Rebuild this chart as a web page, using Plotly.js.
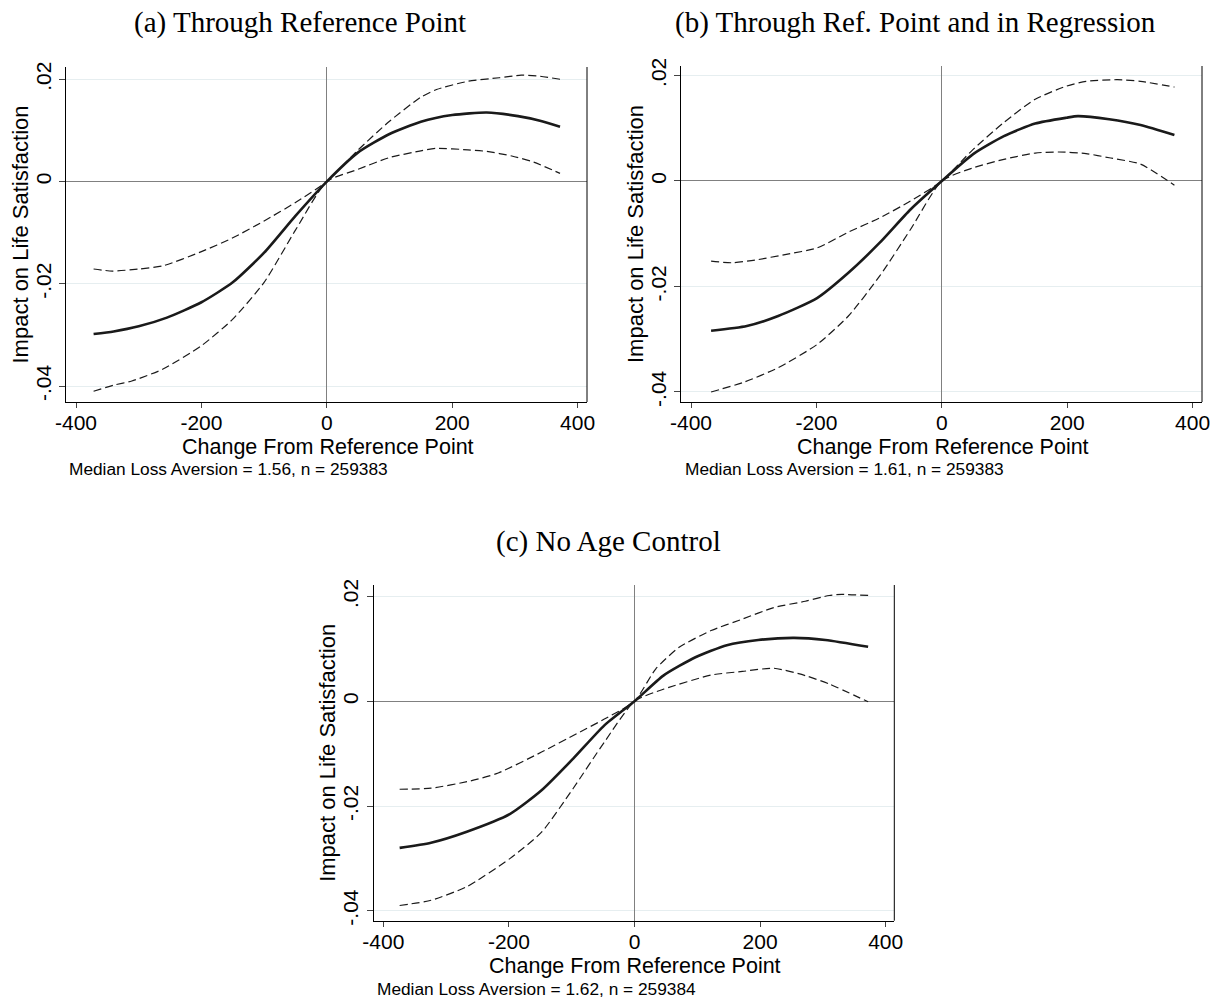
<!DOCTYPE html>
<html>
<head>
<meta charset="utf-8">
<script src="https://cdn.plot.ly/plotly-3.0.1.min.js"></script>
<style>html,body{margin:0;padding:0;background:#fff;}#chart{width:1221px;height:1001px;}</style>
</head>
<body>
<div id="chart"></div>
<script>
// ---------- data ----------
const panelTitles = ["(a) Through Reference Point", "(b) Through Ref. Point and in Regression", "(c) No Age Control"];
const notes = ["Median Loss Aversion = 1.56, n = 259383", "Median Loss Aversion = 1.61, n = 259383", "Median Loss Aversion = 1.62, n = 259384"];
const xTitle = "Change From Reference Point";
const yTitle = "Impact on Life Satisfaction";
const xTickVals = [-400, -200, 0, 200, 400];
const xTickText = ["-400", "-200", "0", "200", "400"];
const yTickVals = [-0.04, -0.02, 0, 0.02];
const yTickText = ["-.04", "-.02", "0", ".02"];

// Panel (a)
const solidA_x = [-372,-340,-300,-255,-200,-150,-100,-50,0,50,100,150,200,255,305,340,372];
const solidA_y = [-0.0298,-0.0293,-0.0283,-0.0266,-0.0236,-0.0197,-0.0139,-0.0067,0,0.0057,0.0093,0.0117,0.0130,0.0135,0.0128,0.0119,0.0107];
const upperA_x = [-372,-342,-300,-262,-200,-150,-100,-50,0,50,100,150,175,225,275,310,340,372];
const upperA_y = [-0.0171,-0.0175,-0.0171,-0.0165,-0.0137,-0.0110,-0.0077,-0.0041,0,0.0062,0.0118,0.0165,0.0180,0.0196,0.0203,0.0208,0.0206,0.0200];
const lowerA_x = [-372,-340,-311,-262,-200,-150,-100,-50,0,50,100,150,175,225,255,295,330,372];
const lowerA_y = [-0.0410,-0.0398,-0.0390,-0.0367,-0.0321,-0.0269,-0.0197,-0.0095,0,0.0024,0.0047,0.0060,0.0065,0.0062,0.0059,0.0050,0.0038,0.0016];

// Panel (b)
const solidB_x = [-368,-311,-261,-199,-149,-99,-50,0,50,99,149,199,217,267,317,371];
const solidB_y = [-0.0284,-0.0275,-0.0256,-0.0222,-0.0174,-0.0117,-0.0054,0,0.0051,0.0085,0.0109,0.0120,0.0123,0.0117,0.0106,0.0087];
const upperB_x = [-368,-335,-298,-248,-199,-149,-99,-50,0,50,99,149,199,230,280,317,371];
const upperB_y = [-0.0152,-0.0155,-0.0150,-0.0139,-0.0127,-0.0097,-0.0070,-0.0038,0,0.0060,0.0111,0.0155,0.0180,0.0189,0.0192,0.0189,0.0178];
const lowerB_x = [-368,-317,-261,-199,-149,-99,-50,0,50,99,149,186,230,267,317,371];
const lowerB_y = [-0.0400,-0.0382,-0.0354,-0.0310,-0.0256,-0.0180,-0.0092,0,0.0025,0.0041,0.0053,0.0055,0.0052,0.0044,0.0032,-0.0008];

// Panel (c)
const solidC_x = [-374,-324,-267,-198,-148,-98,-48,0,46,97,147,197,254,304,372];
const solidC_y = [-0.0280,-0.0270,-0.0249,-0.0215,-0.0170,-0.0110,-0.0046,0,0.0049,0.0084,0.0107,0.0117,0.0121,0.0117,0.0104];
const upperC_x = [-374,-324,-261,-217,-148,-92,-48,0,34,71,122,172,222,272,310,330,372];
const upperC_y = [-0.0168,-0.0166,-0.0152,-0.0137,-0.0097,-0.0062,-0.0034,0,0.0062,0.0103,0.0135,0.0157,0.0179,0.0191,0.0202,0.0204,0.0202];
const lowerC_x = [-374,-324,-267,-198,-148,-98,-48,0,46,122,172,222,272,310,372];
const lowerC_y = [-0.0390,-0.0380,-0.0354,-0.0300,-0.0250,-0.0167,-0.0078,0,0.0023,0.0050,0.0057,0.0063,0.0049,0.0033,-0.0001];

// ---------- layout geometry (pixels) ----------
const W = 1221, H = 1001;
const panels = [
  {xa:'x',  ya:'y',  left:66,    right:587,   top:67,  bottom:402,   xr:[-416,415],   yr:[-0.0431,0.0224], titleX:300, titleY:22, ytX:20,  xtY:447, noteX:68,  noteY:469},
  {xa:'x2', ya:'y2', left:681,   right:1202,  top:66,  bottom:402,   xr:[-416,415],   yr:[-0.0419,0.0218], titleX:915, titleY:22, ytX:636, xtY:447, noteX:684, noteY:469},
  {xa:'x3', ya:'y3', left:373.7, right:894.3, top:585, bottom:920.7, xr:[-415.3,413.7], yr:[-0.0419,0.0222], titleX:608, titleY:541, ytX:328, xtY:966, noteX:376, noteY:989}
];

const series = [
  [solidA_x, solidA_y, upperA_x, upperA_y, lowerA_x, lowerA_y],
  [solidB_x, solidB_y, upperB_x, upperB_y, lowerB_x, lowerB_y],
  [solidC_x, solidC_y, upperC_x, upperC_y, lowerC_x, lowerC_y]
];

const traces = [];
series.forEach((s, i) => {
  const p = panels[i];
  const dashed = {color:'#1a1a1a', width:1.2, dash:'8px,4px', shape:'spline', smoothing:0.6};
  traces.push({x:s[2], y:s[3], xaxis:p.xa, yaxis:p.ya, mode:'lines', line:dashed, hoverinfo:'skip'});
  traces.push({x:s[4], y:s[5], xaxis:p.xa, yaxis:p.ya, mode:'lines', line:dashed, hoverinfo:'skip'});
  traces.push({x:s[0], y:s[1], xaxis:p.xa, yaxis:p.ya, mode:'lines', line:{color:'#1a1a1a', width:2.6, shape:'spline', smoothing:0.6}, hoverinfo:'skip'});
});

const tickFont = {family:'Liberation Sans, Arial, sans-serif', size:21, color:'#000'};
const layout = {
  width:W, height:H, autosize:false, showlegend:false,
  margin:{l:0, r:0, t:0, b:0, pad:0},
  paper_bgcolor:'#fff', plot_bgcolor:'#fff',
  annotations:[], shapes:[]
};

panels.forEach((p, i) => {
  const sfx = i === 0 ? '' : String(i + 1);
  layout['xaxis' + sfx] = {
    domain:[p.left / W, p.right / W], range:p.xr, anchor:p.ya,
    tickvals:xTickVals, ticktext:xTickText, tickfont:tickFont,
    ticks:'outside', ticklen:5, tickwidth:1, tickcolor:'#444', ticklabelstandoff:-3,
    showline:true, linecolor:'#000', linewidth:1,
    showgrid:false, zeroline:true, zerolinecolor:'#808080', zerolinewidth:1,
    fixedrange:true
  };
  layout['yaxis' + sfx] = {
    domain:[1 - p.bottom / H, 1 - p.top / H], range:p.yr, anchor:p.xa,
    tickvals:yTickVals, ticktext:yTickText, tickfont:tickFont, tickangle:-90,
    ticks:'outside', ticklen:6, tickwidth:1, tickcolor:'#444',
    showline:true, linecolor:'#000', linewidth:1,
    showgrid:true, gridcolor:'#e6eef0', gridwidth:1,
    zeroline:true, zerolinecolor:'#808080', zerolinewidth:1,
    fixedrange:true
  };
  // right border of plot region
  layout.shapes.push({type:'line', xref:p.xa + ' domain', yref:p.ya + ' domain', x0:1, x1:1, y0:0, y1:1, line:{color:'#000', width:1}});
  // panel title
  layout.annotations.push({text:panelTitles[i], xref:'paper', yref:'paper', x:p.titleX / W, y:1 - p.titleY / H,
    xanchor:'center', yanchor:'middle', showarrow:false, font:{family:'Liberation Serif, Times New Roman, serif', size:29, color:'#000'}});
  // y axis title
  layout.annotations.push({text:yTitle, xref:'paper', yref:'paper', x:p.ytX / W, y:1 - ((p.top + p.bottom) / 2) / H,
    xanchor:'center', yanchor:'middle', textangle:-90, showarrow:false, borderpad:0, font:{family:'Liberation Sans, Arial, sans-serif', size:22, color:'#000'}});
  // x axis title
  layout.annotations.push({text:xTitle, xref:'paper', yref:'paper', x:((p.left + p.right) / 2 + 1) / W, y:1 - p.xtY / H,
    xanchor:'center', yanchor:'middle', showarrow:false, borderpad:0, font:{family:'Liberation Sans, Arial, sans-serif', size:21.5, color:'#000'}});
  // note
  layout.annotations.push({text:notes[i], xref:'paper', yref:'paper', x:p.noteX / W, y:1 - p.noteY / H,
    xanchor:'left', yanchor:'middle', showarrow:false, borderpad:0, font:{family:'Liberation Sans, Arial, sans-serif', size:17.3, color:'#000'}});
});

Plotly.newPlot('chart', traces, layout, {displayModeBar:false, staticPlot:true});
</script>
</body>
</html>
